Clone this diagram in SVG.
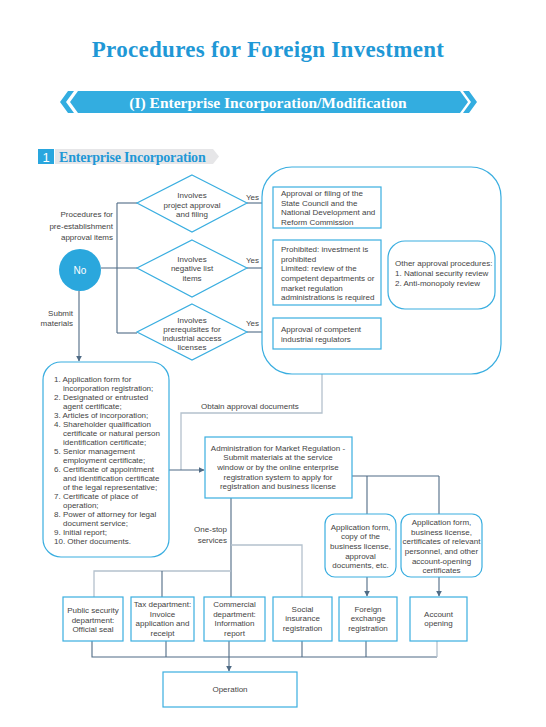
<svg xmlns="http://www.w3.org/2000/svg" width="546" height="727" viewBox="0 0 546 727">
<defs>
<style>
.t{font-family:"Liberation Sans",Arial,sans-serif;font-size:8px;fill:#444;}
.c{text-anchor:middle;}
.r{text-anchor:end;}
.box{fill:#fff;stroke:#3aaee0;stroke-width:1.2;}
.dia{fill:#fff;stroke:#3aaee0;stroke-width:1.2;}
.ln{fill:none;stroke:#4f6b85;stroke-width:1.1;}
.lt{fill:none;stroke:#b4c1cd;stroke-width:1.3;}
.serif{font-family:"Liberation Serif","Times New Roman",serif;font-weight:bold;}
</style>
<marker id="ar" viewBox="0 0 10 10" refX="9" refY="5" markerWidth="6" markerHeight="6" orient="auto" markerUnits="userSpaceOnUse">
<path d="M0,0 L10,5 L0,10 z" fill="#4f6b85"/>
</marker>
</defs>
<rect width="546" height="727" fill="#fff"/>

<g id="title">
<text x="268" y="57" class="serif" font-size="23" fill="#1f98d6" text-anchor="middle" letter-spacing="0.3">Procedures for Foreign Investment</text>
</g>

<g id="banner">
<path d="M60,102 L68,91 L74,91 L66,102 L74,113 L68,113 z" fill="#33ade0"/>
<path d="M70,102 L78,91 L460,91 L468,102 L460,113 L78,113 z" fill="#33ade0"/>
<path d="M477,102 L469,91 L463,91 L471,102 L463,113 L469,113 z" fill="#33ade0"/>
<text x="268" y="107.5" class="serif" font-size="15.5" fill="#fff" text-anchor="middle">(I) Enterprise Incorporation/Modification</text>
</g>

<g id="section">
<path d="M55,149 L213,149 L219,156.5 L213,164 L55,164 z" fill="#e6e6e8"/>
<rect x="38" y="149" width="16" height="15" fill="#29a6de"/>
<text x="46" y="161.5" font-family="Liberation Sans,Arial,sans-serif" font-size="13" fill="#fff" text-anchor="middle">1</text>
<text x="59" y="161.5" class="serif" font-size="14" fill="#1f98d6" letter-spacing="-0.2">Enterprise Incorporation</text>
</g>

<g id="connectors">
<path class="ln" d="M101,268 L137,268"/>
<path class="ln" d="M117,203 L117,333"/>
<path class="ln" d="M117,203 L137,203"/>
<path class="ln" d="M117,333 L137,333"/>
<path class="ln" d="M247,203 L272,203" marker-end="url(#ar)"/>
<path class="ln" d="M247,268 L272,268" marker-end="url(#ar)"/>
<path class="ln" d="M247,332 L272,332" marker-end="url(#ar)"/>
<path class="ln" d="M79,291 L79,361" marker-end="url(#ar)"/>
<path class="lt" d="M322,374 L322,413 L181,413 L181,470"/>
<path class="ln" d="M169,470 L204,470" marker-end="url(#ar)"/>
<path class="ln" d="M352,476 L439,476"/>
<path class="ln" d="M367,476 L367,514"/>
<path class="ln" d="M439,476 L439,514"/>
<path class="ln" d="M367,577 L367,596" marker-end="url(#ar)"/>
<path class="ln" d="M439,577 L439,596" marker-end="url(#ar)"/>
<path class="ln" d="M231,498 L231,597"/>
<path class="lt" d="M231,545 L302,545 L302,597"/>
<path class="lt" d="M94,597 L94,571 L231,571"/>
<path class="ln" d="M162,571 L162,597"/>
<path class="ln" d="M92,641 L92,657 L437,657"/>
<path class="ln" d="M166,641 L166,657"/>
<path class="ln" d="M229,641 L229,657"/>
<path class="ln" d="M302,641 L302,657"/>
<path class="ln" d="M366,641 L366,657"/>
<path class="lt" d="M437,641 L437,657"/>
<path class="ln" d="M229,657 L229,671" marker-end="url(#ar)"/>
</g>

<g id="labels">
<text class="t r" x="113" y="217">Procedures for</text>
<text class="t r" x="113" y="229">pre-establishment</text>
<text class="t r" x="113" y="240">approval items</text>
<text class="t r" x="73" y="316">Submit</text>
<text class="t r" x="73" y="326">materials</text>
<text class="t" x="246" y="200">Yes</text>
<text class="t" x="246" y="263">Yes</text>
<text class="t" x="246" y="326">Yes</text>
<text class="t" x="201" y="409">Obtain approval documents</text>
<text class="t r" x="227" y="532">One-stop</text>
<text class="t r" x="227" y="543">services</text>
</g>

<g id="no">
<circle cx="80" cy="270" r="21" fill="#2aa7dd"/>
<text x="80" y="274" font-family="Liberation Sans,Arial,sans-serif" font-size="10" fill="#fff" text-anchor="middle">No</text>
</g>

<g id="d1">
<path class="dia" d="M192,175 L247,203 L192,232 L137,203 z"/>
<text class="t c" x="192" y="198">Involves</text>
<text class="t c" x="192" y="208">project approval</text>
<text class="t c" x="192" y="217">and filing</text>
</g>
<g id="d2">
<path class="dia" d="M192,240 L247,268 L192,297 L137,268 z"/>
<text class="t c" x="192" y="262">Involves</text>
<text class="t c" x="192" y="271">negative list</text>
<text class="t c" x="192" y="281">items</text>
</g>
<g id="d3">
<path class="dia" d="M192,304 L247,332 L192,360 L137,332 z"/>
<text class="t c" x="192" y="323">Involves</text>
<text class="t c" x="192" y="332">prerequisites for</text>
<text class="t c" x="192" y="341">industrial access</text>
<text class="t c" x="192" y="350">licenses</text>
</g>

<g id="container">
<rect class="box" x="262" y="167" width="239" height="207" rx="30"/>
</g>
<g id="b1">
<rect class="box" x="273" y="187" width="108" height="41"/>
<text class="t" x="281" y="196">Approval or filing of the</text>
<text class="t" x="281" y="206">State Council and the</text>
<text class="t" x="281" y="215">National Development and</text>
<text class="t" x="281" y="225">Reform Commission</text>
</g>
<g id="b2">
<rect class="box" x="273" y="240" width="108" height="65"/>
<text class="t" x="281" y="252">Prohibited: investment is</text>
<text class="t" x="281" y="262">prohibited</text>
<text class="t" x="281" y="271">Limited: review of the</text>
<text class="t" x="281" y="281">competent departments or</text>
<text class="t" x="281" y="291">market regulation</text>
<text class="t" x="281" y="300">administrations is required</text>
</g>
<g id="b3">
<rect class="box" x="273" y="318" width="108" height="31"/>
<text class="t" x="281" y="332">Approval of competent</text>
<text class="t" x="281" y="342">industrial regulators</text>
</g>
<g id="other">
<rect class="box" x="388" y="241" width="107" height="68" rx="17"/>
<text class="t" x="395" y="266">Other approval procedures:</text>
<text class="t" x="395" y="276">1. National security review</text>
<text class="t" x="395" y="286">2. Anti-monopoly review</text>
</g>

<g id="materials">
<rect class="box" x="43" y="362" width="126" height="195" rx="18"/>
<g class="t">
<text x="54" y="382">1. Application form for</text>
<text x="63" y="391">incorporation registration;</text>
<text x="54" y="400">2. Designated or entrusted</text>
<text x="63" y="409">agent certificate;</text>
<text x="54" y="418">3. Articles of incorporation;</text>
<text x="54" y="427">4. Shareholder qualification</text>
<text x="63" y="436">certificate or natural person</text>
<text x="63" y="445">identification certificate;</text>
<text x="54" y="454">5. Senior management</text>
<text x="63" y="463">employment certificate;</text>
<text x="54" y="472">6. Certificate of appointment</text>
<text x="63" y="481">and identification certificate</text>
<text x="63" y="490">of the legal representative;</text>
<text x="54" y="499">7. Certificate of place of</text>
<text x="63" y="508">operation;</text>
<text x="54" y="517">8. Power of attorney for legal</text>
<text x="63" y="526">document service;</text>
<text x="54" y="535">9. Initial report;</text>
<text x="54" y="544">10. Other documents.</text>
</g>
</g>

<g id="admin">
<rect class="box" x="205" y="437" width="147" height="61"/>
<text class="t c" x="278" y="451">Administration for Market Regulation -</text>
<text class="t c" x="278" y="460">Submit materials at the service</text>
<text class="t c" x="278" y="470">window or by the online enterprise</text>
<text class="t c" x="278" y="480">registration system to apply for</text>
<text class="t c" x="278" y="489">registration and business license</text>
</g>

<g id="docsA">
<rect class="box" x="325" y="514" width="71" height="63" rx="10"/>
<text class="t c" x="360.5" y="530">Application form,</text>
<text class="t c" x="360.5" y="539">copy of the</text>
<text class="t c" x="360.5" y="549">business license,</text>
<text class="t c" x="360.5" y="559">approval</text>
<text class="t c" x="360.5" y="568">documents, etc.</text>
</g>
<g id="docsB">
<rect class="box" x="401" y="514" width="81" height="63" rx="10"/>
<text class="t c" x="441.5" y="525">Application form,</text>
<text class="t c" x="441.5" y="535">business license,</text>
<text class="t c" x="441.5" y="544">certificates of relevant</text>
<text class="t c" x="441.5" y="554">personnel, and other</text>
<text class="t c" x="441.5" y="564">account-opening</text>
<text class="t c" x="441.5" y="573">certificates</text>
</g>

<g id="ps">
<rect class="box" x="63" y="597" width="60" height="44"/>
<text class="t c" x="93" y="613">Public security</text>
<text class="t c" x="93" y="623">department:</text>
<text class="t c" x="93" y="632">Official seal</text>
</g>
<g id="tax">
<rect class="box" x="131" y="597" width="63" height="44"/>
<text class="t c" x="162.5" y="607">Tax department:</text>
<text class="t c" x="162.5" y="617">Invoice</text>
<text class="t c" x="162.5" y="626">application and</text>
<text class="t c" x="162.5" y="636">receipt</text>
</g>
<g id="commercial">
<rect class="box" x="204" y="597" width="61" height="44"/>
<text class="t c" x="234.5" y="607">Commercial</text>
<text class="t c" x="234.5" y="617">department:</text>
<text class="t c" x="234.5" y="626">Information</text>
<text class="t c" x="234.5" y="636">report</text>
</g>
<g id="social">
<rect class="box" x="273" y="597" width="59" height="44"/>
<text class="t c" x="302.5" y="612">Social</text>
<text class="t c" x="302.5" y="621">insurance</text>
<text class="t c" x="302.5" y="631">registration</text>
</g>
<g id="foreign">
<rect class="box" x="339" y="597" width="58" height="44"/>
<text class="t c" x="368" y="612">Foreign</text>
<text class="t c" x="368" y="621">exchange</text>
<text class="t c" x="368" y="631">registration</text>
</g>
<g id="account">
<rect class="box" x="410" y="597" width="57" height="44"/>
<text class="t c" x="438.5" y="617">Account</text>
<text class="t c" x="438.5" y="626">opening</text>
</g>
<g id="operation">
<rect class="box" x="163" y="672" width="134" height="35"/>
<text class="t c" x="230" y="692">Operation</text>
</g>
</svg>
